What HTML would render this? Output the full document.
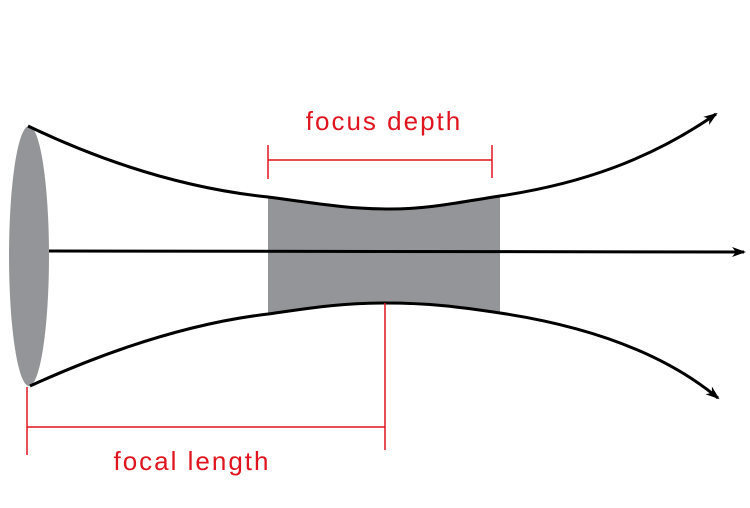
<!DOCTYPE html>
<html><head><style>body{margin:0;background:#fff}svg{display:block}</style></head>
<body>
<svg width="750" height="508" viewBox="0 0 750 508" xmlns="http://www.w3.org/2000/svg">
<defs>
<marker id="ah" markerWidth="14" markerHeight="10" refX="12" refY="5" orient="auto" markerUnits="userSpaceOnUse">
<path d="M0,0 L14,5 L0,10 L4,5 Z" fill="#000"/>
</marker>
</defs>
<path d="M268,197 C320,204 350,209 390,209 C430,209 460,202 500,196 L500,313 C460,307 430,303 385,303 C340,303 310,308 268,314 Z" fill="#939598"/>
<ellipse cx="29" cy="256" rx="20" ry="130" fill="#939598"/>
<path d="M28,126 C120,170 200,190 268,197 C320,204 350,209 390,209 C430,209 460,202 500,196 C580,184 650,160 716,114" fill="none" stroke="#000" stroke-width="3" marker-end="url(#ah)"/>
<path d="M30,386 C120,345 200,322 268,314 C310,308 340,303 385,303 C430,303 460,307 500,313 C580,325 660,350 718,398" fill="none" stroke="#000" stroke-width="3" marker-end="url(#ah)"/>
<line x1="49" y1="251" x2="744" y2="252" stroke="#000" stroke-width="3" marker-end="url(#ah)"/>
<g stroke="#e0141e" stroke-width="1.5" fill="none">
<line x1="268" y1="145" x2="268" y2="179"/>
<line x1="492" y1="145" x2="492" y2="178"/>
<line x1="268" y1="160" x2="492" y2="160"/>
<line x1="27" y1="387" x2="27" y2="455"/>
<line x1="27" y1="427" x2="385" y2="427"/>
<line x1="385" y1="303" x2="385" y2="450"/>
</g>
<text x="384" y="130" text-anchor="middle" font-family="Liberation Sans, sans-serif" font-size="26" letter-spacing="2" fill="#e0141e">focus depth</text>
<text x="192" y="470" text-anchor="middle" font-family="Liberation Sans, sans-serif" font-size="26" letter-spacing="2" fill="#e0141e">focal length</text>
</svg>
</body></html>
